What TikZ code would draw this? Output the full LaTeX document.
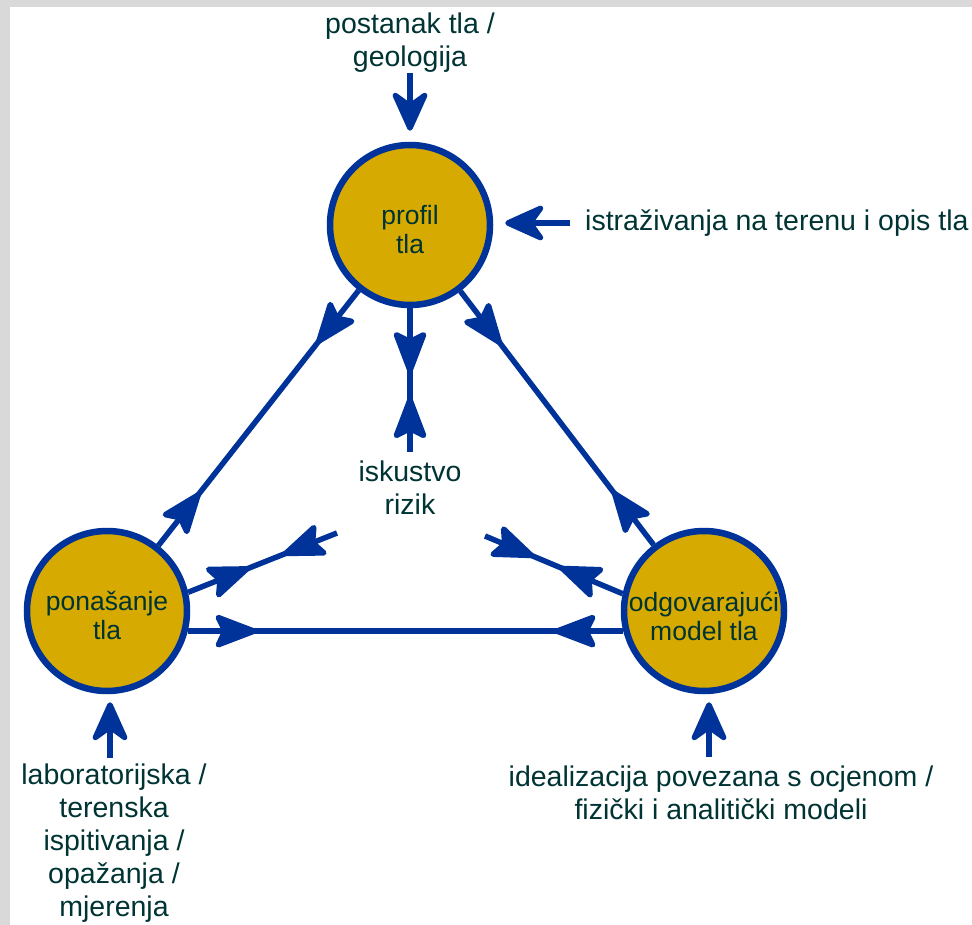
\documentclass[tikz,border=0pt]{standalone}
\usepackage{fontspec}
\setmainfont{Liberation Sans}
\usetikzlibrary{arrows.meta,decorations.markings}
\definecolor{linkblue}{RGB}{0,51,153}
\definecolor{soilgold}{RGB}{214,170,0}
\definecolor{labeltext}{RGB}{0,51,51}
\definecolor{framegrey}{RGB}{217,217,217}

\begin{document}
\begin{tikzpicture}[x=1pt,y=-1pt,
    soil/.style={circle,draw=linkblue,fill=soilgold,line width=6.5pt,minimum size=160pt,inner sep=0pt},
    circtext/.style={text=labeltext,align=center,font=\fontsize{26.5}{29}\selectfont,inner sep=0pt},
    outtext/.style={text=labeltext,align=center,font=\fontsize{28.5}{33}\selectfont,inner sep=0pt},
    link/.style={draw=linkblue,line width=5.5pt},
    inarrow/.style={link,-{Stealth[length=47pt,width=42pt,inset=15pt,round]}},
    twoway/.style 2 args={link,postaction={decorate},decoration={markings,
        mark=at position #1 with {\arrow{Stealth[scale=1.75,inset=5pt,round]}},
        mark=at position #2 with {\arrowreversed{Stealth[scale=1.75,inset=5pt,round]}}}}]
    % frame
    \useasboundingbox (0,0) rectangle (972,925);
    \fill[framegrey] (0,0) rectangle (972,925);
    \fill[white] (10,7) rectangle (972,925);
    % the three circles
    \node[soil] (profil) at (410,225) {};
    \node[soil] (ponasanje) at (107,611) {};
    \node[soil] (model) at (704,611) {};
    \node[circtext] (profiltxt) at (410,230) {profil\\tla};
    \node[circtext] (ponasanjetxt) at (107,615) {ponašanje\\tla};
    \node[circtext] (modeltxt) at (704,616) {odgovarajući\\model tla};
    % centre
    \node[outtext] (iskustvo) at (410,488) {iskustvo\\rizik};
    \coordinate (iskT) at (410,452);
    \coordinate (iskL) at (337,533);
    \coordinate (iskR) at (485,536);
    % outer labels
    \node[outtext,anchor=south] (postanak) at (410,73) {postanak tla /\\geologija};
    \node[text=labeltext,font=\fontsize{28.5}{33}\selectfont,inner sep=0pt,anchor=west] (istr) at (585,223) {istraživanja na terenu i opis tla};
    \node[outtext,anchor=north] (lab) at (114,764) {laboratorijska /\\terenska\\ispitivanja /\\opažanja /\\mjerenja};
    \node[outtext,anchor=north] (ideal) at (721,766) {idealizacija povezana s ocjenom /\\fizički i analitički modeli};
    % inputs
    \draw[inarrow,shorten >=11pt] (postanak.south) -- (profil.north);
    \draw[inarrow,shorten <=15pt,shorten >=12pt] (istr.west) -- (istr.west -| profil.east);
    \draw[inarrow,shorten <=6pt,shorten >=8pt] ([xshift=-4pt]lab.north) -- ([xshift=-4pt]lab.north |- ponasanje.south);
    \draw[inarrow,shorten <=9pt,shorten >=8pt] ([xshift=-12pt]ideal.north) -- ([xshift=-12pt]ideal.north |- model.south);
    % triangle
    \draw[twoway={67pt}{-67pt}] (profil) -- (ponasanje);
    \draw[twoway={67pt}{-67pt}] (profil) -- (model);
    \draw[twoway={69pt}{-69pt}] (ponasanje.-14) -- (model.194);
    % towards the centre
    \draw[twoway={65pt}{-55pt}] (profil) -- (iskT);
    \draw[twoway={66pt}{-58pt}] (ponasanje.13) -- (iskL);
    \draw[twoway={68pt}{-53pt}] (model.168) -- (iskR);
\end{tikzpicture}
\end{document}
